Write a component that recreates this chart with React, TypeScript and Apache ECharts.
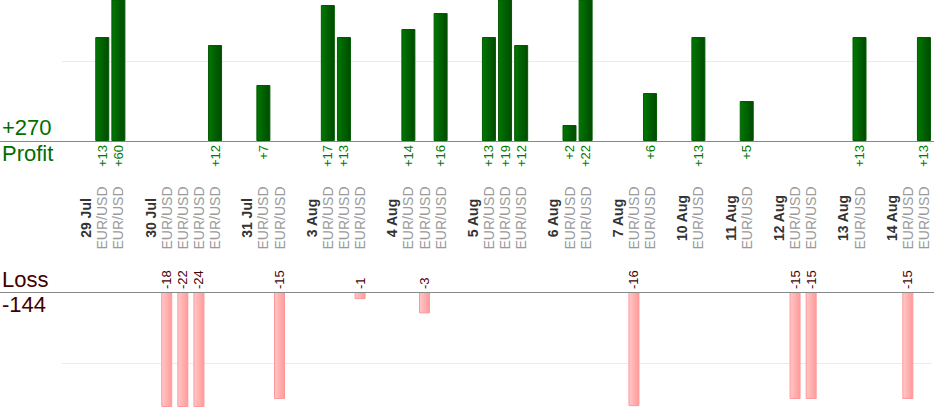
import React, { useEffect, useRef } from 'react';
import * as echarts from 'echarts';

const pair = 'EUR/USD';
const days = ['29 Jul', '30 Jul', '31 Jul', '3 Aug', '4 Aug', '5 Aug', '6 Aug', '7 Aug', '10 Aug', '11 Aug', '12 Aug', '13 Aug', '14 Aug'];
const trades: number[][] = [
  [13, 60],
  [-18, -22, -24, 12],
  [7, -15],
  [17, 13, -1],
  [14, -3, 16],
  [13, 19, 12],
  [2, 22],
  [-16, 6],
  [13],
  [5],
  [-15, -15],
  [13],
  [-15, 13],
];

const categories: string[] = [];
const profit: (number | null)[] = [];
const loss: (number | null)[] = [];
days.forEach((d, k) => {
  categories.push('');
  profit.push(null);
  loss.push(null);
  categories.push(d);
  profit.push(null);
  loss.push(null);
  trades[k].forEach((v) => {
    categories.push(pair);
    profit.push(v > 0 ? v : null);
    loss.push(v < 0 ? v : null);
  });
});

const totalProfit = profit.reduce((a: number, v) => a + (v || 0), 0);
const totalLoss = loss.reduce((a: number, v) => a + (v || 0), 0);

const FONT = "'Liberation Sans', Arial, Helvetica, sans-serif";
const GREEN = '#006e00';
const DARKRED = '#3f0000';

export default function App() {
  const ref = useRef<HTMLDivElement>(null);
  useEffect(() => {
    if (!ref.current) return;
    const chart = echarts.init(ref.current, undefined, { renderer: 'svg' });
    const hiddenY = {
      type: 'value' as const,
      axisLine: { show: false },
      axisTick: { show: false },
      axisLabel: { show: false },
      splitLine: { show: true, lineStyle: { color: ['transparent', '#ebebeb', 'transparent'], width: 1 } },
    };
    chart.setOption({
      animation: false,
      textStyle: { fontFamily: FONT },
      grid: [
        { left: 62, right: 2, top: 0, height: 141 },
        { left: 62, right: 2, top: 292, height: 114.5 },
      ],
      xAxis: [
        {
          gridIndex: 0,
          type: 'category',
          data: categories,
          position: 'bottom',
          axisLine: { show: false },
          axisTick: { show: false },
          axisLabel: {
            interval: 0,
            rotate: 90,
            margin: 4,
            fontSize: 13,
            color: '#007a00',
            fontFamily: FONT,
            formatter: (_v: string, i: number) => (profit[i] != null ? '+' + profit[i] : ''),
          },
        },
        {
          gridIndex: 0,
          type: 'category',
          data: categories,
          position: 'bottom',
          offset: 77,
          axisLine: { show: false },
          axisTick: { show: false },
          axisLabel: {
            interval: 0,
            rotate: 90,
            margin: 0,
            align: 'center',
            verticalAlign: 'middle',
            fontFamily: FONT,
            formatter: (v: string) => (v === pair ? `{p|${v}}` : v ? `{d|${v}}` : ''),
            rich: {
              p: { color: '#9a9a9a', fontSize: 14, fontFamily: FONT },
              d: { color: '#333333', fontSize: 14, fontWeight: 'bold', fontFamily: FONT },
            },
          },
        },
        {
          gridIndex: 1,
          type: 'category',
          data: categories,
          position: 'top',
          axisLine: { show: false },
          axisTick: { show: false },
          axisLabel: {
            interval: 0,
            rotate: 90,
            margin: 3,
            fontSize: 13,
            color: '#4a0000',
            fontFamily: FONT,
            formatter: (_v: string, i: number) => (loss[i] != null ? String(loss[i]) : ''),
          },
        },
      ],
      yAxis: [
        { ...hiddenY, gridIndex: 0, min: 0, max: 17.625, interval: 10 },
        { ...hiddenY, gridIndex: 1, min: 0, max: 16.05, interval: 10, inverse: true },
      ],
      series: [
        {
          type: 'bar',
          xAxisIndex: 0,
          yAxisIndex: 0,
          barWidth: 14,
          clip: true,
          data: profit.map((v) => (v == null ? '-' : v)),
          itemStyle: {
            color: new echarts.graphic.LinearGradient(0, 0, 1, 0, [
              { offset: 0, color: '#007800' },
              { offset: 1, color: '#004a00' },
            ]),
            borderColor: '#005a00',
            borderWidth: 1,
          },
        },
        {
          type: 'bar',
          xAxisIndex: 2,
          yAxisIndex: 1,
          barWidth: 11,
          clip: true,
          data: loss.map((v) => (v == null ? '-' : -v)),
          itemStyle: {
            color: new echarts.graphic.LinearGradient(0, 0, 1, 0, [
              { offset: 0, color: '#ffc8c8' },
              { offset: 1, color: '#ff9a9a' },
            ]),
            borderColor: '#ff9999',
            borderWidth: 1,
          },
        },
      ],
      graphic: [
        { type: 'line', z: 10, shape: { x1: 0, y1: 141.5, x2: 934, y2: 141.5 }, style: { stroke: '#888888', lineWidth: 1 } },
        { type: 'line', z: 10, shape: { x1: 0, y1: 292.5, x2: 934, y2: 292.5 }, style: { stroke: '#888888', lineWidth: 1 } },
        { type: 'text', x: 2, y: 116, style: { text: '+' + totalProfit, fontSize: 22, fill: GREEN, fontFamily: FONT, align: 'left', verticalAlign: 'top' } },
        { type: 'text', x: 2, y: 142, style: { text: 'Profit', fontSize: 22, fill: GREEN, fontFamily: FONT, align: 'left', verticalAlign: 'top' } },
        { type: 'text', x: 2, y: 268, style: { text: 'Loss', fontSize: 22, fill: DARKRED, fontFamily: FONT, align: 'left', verticalAlign: 'top' } },
        { type: 'text', x: 2, y: 293, style: { text: String(totalLoss), fontSize: 22, fill: DARKRED, fontFamily: FONT, align: 'left', verticalAlign: 'top' } },
      ],
    });
    return () => chart.dispose();
  }, []);
  return <div ref={ref} style={{ position: 'absolute', left: 0, top: 0, width: 934, height: 420 }} />;
}
